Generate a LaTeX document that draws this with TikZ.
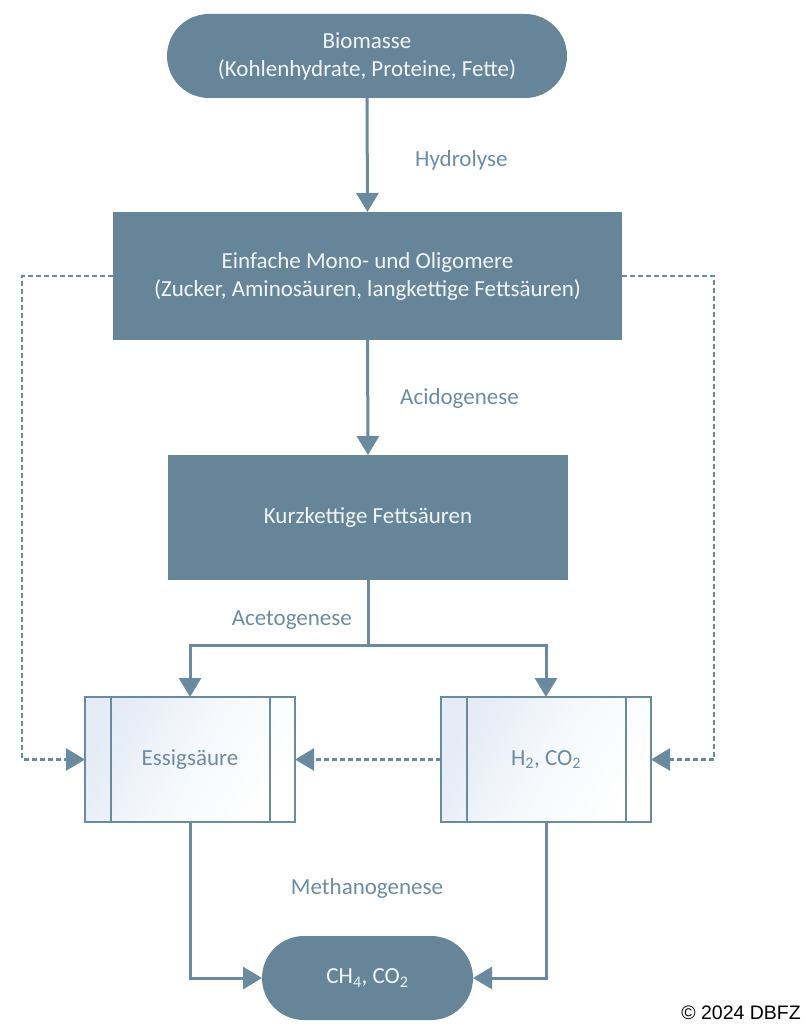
\documentclass[tikz,border=0pt]{standalone}
\usepackage{fontspec}
\setmainfont{Carlito}
\newfontfamily\arialf{Liberation Sans}
\usetikzlibrary{arrows.meta,calc}
\definecolor{fillc}{HTML}{678599}
\definecolor{linec}{HTML}{6A8AA0}
\definecolor{labc}{HTML}{6C8CA3}
\definecolor{txtc}{HTML}{F2F5F8}
\definecolor{boxl}{HTML}{E4EBF6}
\tikzset{
  dark/.style={fill=fillc, draw=none, text=txtc, align=center, inner sep=0pt, outer sep=0pt,
    font=\fontsize{23}{28}\selectfont},
  stadium/.style={dark, rounded corners=42pt},
  lightbox/.style={draw=linec, line width=2.5pt, left color=boxl, right color=white,
    middle color=boxl!35!white, shading angle=60,
    text=labc, inner sep=0pt, outer sep=0pt, minimum width=210pt, minimum height=125pt,
    font=\fontsize{23}{28}\selectfont},
  lab/.style={text=labc, inner sep=0pt, font=\fontsize{23}{28}\selectfont},
  flow/.style={draw=linec, line width=3pt, -{Triangle[length=19pt,width=22pt]}},
  plain/.style={draw=linec, line width=3pt},
  dots/.style={draw=linec, line width=2.5pt, dash pattern=on 5pt off 3pt, -{Triangle[length=19pt,width=22pt]}}
}
\begin{document}
\begin{tikzpicture}[x=1pt,y=-1pt]
\useasboundingbox (0,0) rectangle (805,1024);
\node[stadium, minimum width=400pt, minimum height=84pt] (bio) at (367,56)
  {Biomasse\\(Kohlenhydrate, Proteine, Fette)};
\node[dark, minimum width=509pt, minimum height=128pt] (ein) at (367.5,276)
  {Einfache Mono- und Oligomere\\(Zucker, Aminosäuren, langkettige Fettsäuren)};
\node[dark, minimum width=400pt, minimum height=125pt] (kurz) at (368,517.5)
  {Kurzkettige Fettsäuren};
\node[lightbox] (ess) at (190,759.5) {Essigsäure};
\node[lightbox] (h2) at (546,759.5) {H\textsubscript{2}, CO\textsubscript{2}};
\node[stadium, minimum width=211pt, minimum height=84pt] (ch4) at (367.5,978)
  {CH\textsubscript{4}, CO\textsubscript{2}};

% inner strips
\foreach \n in {ess,h2}{
  \draw[linec, line width=2.5pt] ([xshift=26pt]\n.north west) -- ([xshift=26pt]\n.south west);
  \draw[linec, line width=2.5pt] ([xshift=-25pt]\n.north east) -- ([xshift=-25pt]\n.south east);
}

% labels
\node[lab, anchor=west] (lhyd) at (415,160) {Hydrolyse};
\node[lab, anchor=west] (lacid) at (400,398) {Acidogenese};
\node[lab, anchor=east] (lacet) at (352,620) {Acetogenese};
\node[lab] (lmeth) at (367,888) {Methanogenese};

% main flow
\draw[flow] (bio.south) -- (ein.north);
\draw[flow] (ein.south) -- (kurz.north);
\coordinate (split) at (368,645);
\draw[plain] (kurz.south) -- (split);
\draw[flow] (split) -| (ess.north);
\draw[flow] (split) -| (h2.north);

% dotted
\coordinate (lx) at (22,276);
\coordinate (rx) at (714,276);
\draw[dots] (ein.west) -- (lx) |- (ess.west);
\draw[dots] (ein.east) -- (rx) |- (h2.east);
\draw[dots] (h2.west) -- (ess.east);

% methanogenese
\draw[flow] (ess.south) |- (ch4.west);
\draw[flow] (h2.south) |- (ch4.east);

\node[anchor=east, inner sep=0pt, font=\arialf\fontsize{19.5}{22}\selectfont] (copy) at (801,1013) {© 2024 DBFZ};
\end{tikzpicture}
\end{document}
